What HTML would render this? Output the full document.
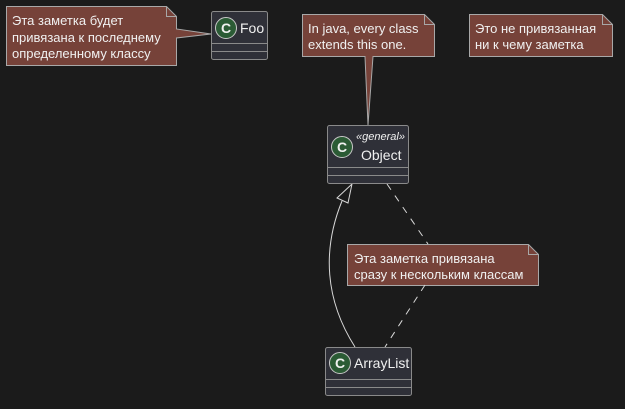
<!DOCTYPE html>
<html><head><meta charset="utf-8"><style>
html,body{margin:0;padding:0;background:#1b1b1b;}
svg{display:block}
text{font-family:"Liberation Sans","DejaVu Sans",sans-serif;fill:#f0f0f0}
</style></head><body>
<svg width="625" height="409" viewBox="0 0 625 409" xmlns="http://www.w3.org/2000/svg">
<rect width="625" height="409" fill="#1b1b1b"/>
<g fill="#764239" stroke="#a8a8a8" stroke-width="1">
<!-- note1 -->
<path d="M6.5,6.5 H166.5 L176.5,16.5 V29 L211,34 L176.5,38 V65.5 H6.5 Z"/>
<path d="M166.5,6.5 V16.5 H176.5" fill="none"/>
<!-- note2 -->
<path d="M302.5,14.5 H424.5 L434.5,24.5 V56.5 H373 L368,125 L365,56.5 H302.5 Z"/>
<path d="M424.5,14.5 V24.5 H434.5" fill="none"/>
<!-- note3 -->
<path d="M469.5,14.5 H602.5 L612.5,24.5 V56.5 H469.5 Z"/>
<path d="M602.5,14.5 V24.5 H612.5" fill="none"/>
<!-- note4 -->
<path d="M347.5,244.5 H528.5 L538.5,254.5 V285.5 H347.5 Z"/>
<path d="M528.5,244.5 V254.5 H538.5" fill="none"/>
</g>
<g font-size="13">
<text x="12" y="25">Эта заметка будет</text>
<text x="12" y="42">привязана к последнему</text>
<text x="12" y="58">определенному классу</text>
<text x="308" y="33">In java, every class</text>
<text x="308" y="49">extends this one.</text>
<text x="475" y="33">Это не привязанная</text>
<text x="475" y="49">ни к чему заметка</text>
<text x="354" y="263">Эта заметка привязана</text>
<text x="354" y="279">сразу к нескольким классам</text>
</g>
<!-- connectors -->
<g stroke="#d8d8d8" fill="none" stroke-width="1">
<path d="M387,184 L428,244" stroke-dasharray="7,7"/>
<path d="M425,285 L385,347" stroke-dasharray="7,7"/>
<path d="M355,347 C325,300 322,250 342,201"/>
<path d="M352,184 L337,198 L348,203 Z" fill="#1b1b1b"/>
</g>
<!-- classes -->
<g fill="#2f3038" stroke="#8a8a8a">
<rect x="211.5" y="11.5" width="56" height="48" rx="2"/>
<rect x="327.5" y="125.5" width="81" height="58" rx="2"/>
<rect x="325.5" y="347.5" width="86" height="48" rx="2"/>
</g>
<g stroke="#8a8a8a">
<line x1="211.5" y1="43.5" x2="267.5" y2="43.5"/><line x1="211.5" y1="51.5" x2="267.5" y2="51.5"/>
<line x1="327.5" y1="167.5" x2="408.5" y2="167.5"/><line x1="327.5" y1="175.5" x2="408.5" y2="175.5"/>
<line x1="325.5" y1="379.5" x2="411.5" y2="379.5"/><line x1="325.5" y1="387.5" x2="411.5" y2="387.5"/>
</g>
<g fill="#2b5b35" stroke="#c8c8c8">
<circle cx="226" cy="28" r="10.5"/>
<circle cx="342" cy="147" r="10.5"/>
<circle cx="340" cy="363" r="10.5"/>
</g>
<g font-size="14" font-weight="bold" text-anchor="middle">
<text x="226" y="33">C</text><text x="342" y="152">C</text><text x="340" y="368">C</text>
</g>
<text x="240" y="33" font-size="14">Foo</text>
<text x="356" y="140" font-size="11" font-style="italic">«general»</text>
<text x="361" y="160" font-size="14">Object</text>
<text x="354" y="368" font-size="14">ArrayList</text>
</svg>
</body></html>
